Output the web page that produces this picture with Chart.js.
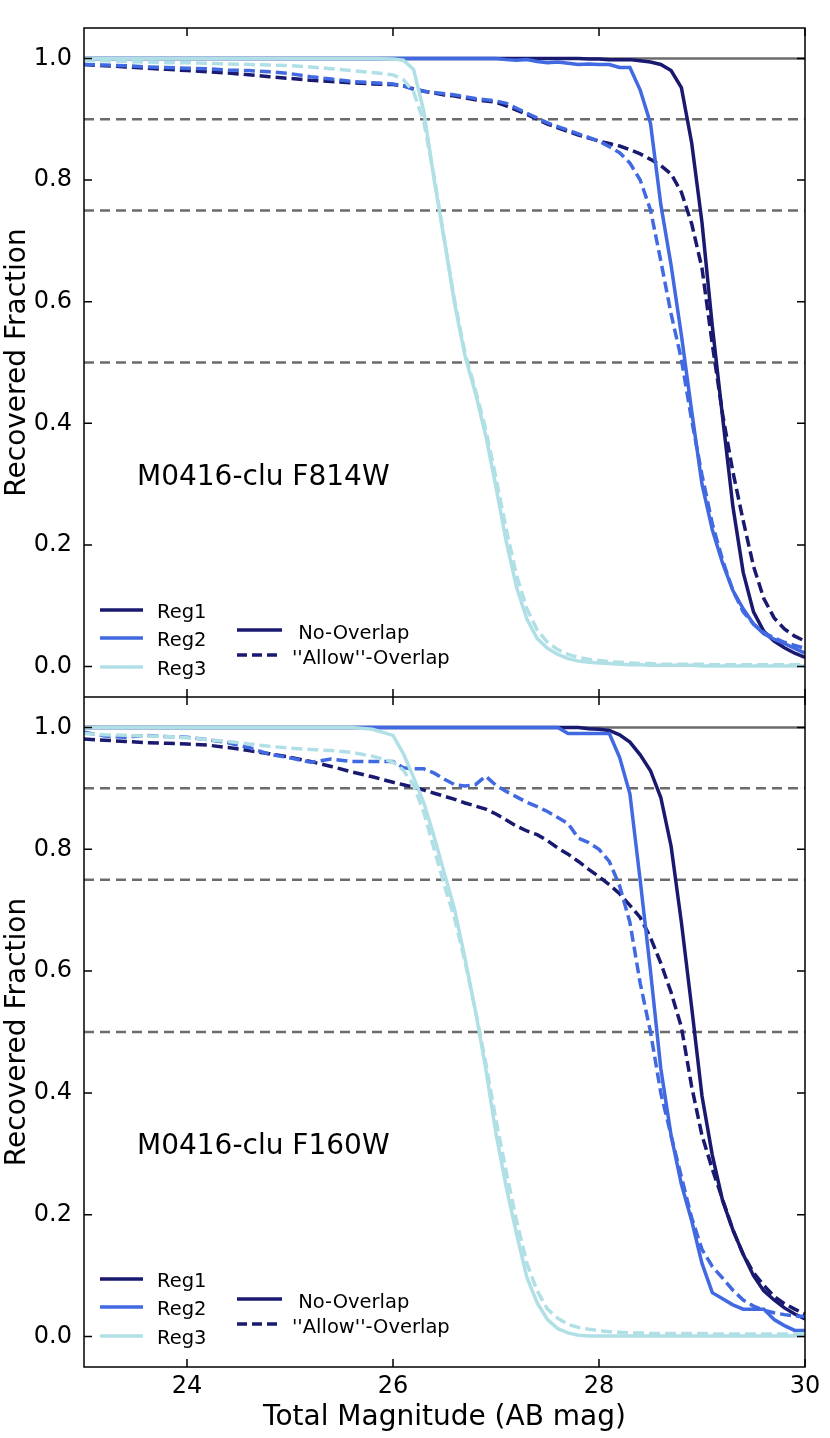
<!DOCTYPE html>
<html>
<head>
<meta charset="utf-8">
<title>Recovered Fraction - M0416-clu</title>
<script src="https://cdn.jsdelivr.net/npm/chart.js@4.4.1/dist/chart.umd.min.js"></script>
<style>
  body { margin: 0; background: #fff; }
  canvas { display: block; }
</style>
</head>
<body>
<canvas id="panelTop" width="830" height="697"></canvas>
<canvas id="panelBottom" width="830" height="741"></canvas>
<script>
// magnitude grid shared by every curve
const mags = [23.0, 23.2, 23.4, 23.6, 23.8, 24.0, 24.2, 24.4, 24.6, 24.8, 25.0, 25.2, 25.4, 25.6, 25.8,
  26.0, 26.1, 26.2, 26.3, 26.4, 26.5, 26.6, 26.7, 26.8, 26.9,
  27.0, 27.1, 27.2, 27.3, 27.4, 27.5, 27.6, 27.7, 27.8, 27.9,
  28.0, 28.1, 28.2, 28.3, 28.4, 28.5, 28.6, 28.7, 28.8, 28.9,
  29.0, 29.1, 29.2, 29.3, 29.4, 29.5, 29.6, 29.7, 29.8, 29.9, 30.0];

const xTicks = [24, 26, 28, 30];
const yTicks = [0.0, 0.2, 0.4, 0.6, 0.8, 1.0];
const refLevels = [1.0, 0.9, 0.75, 0.5];

// F814W
const reg1Solid814 = [1, 1, 1, 1, 1, 1, 1, 1, 1, 1, 1, 1, 1, 1, 1,
  1, 1, 1, 1, 1, 1, 1, 1, 1, 1,
  1, 1, 1, 1, 1, 1, 1, 1, 1, 0.999,
  0.999, 0.998, 0.998, 0.998, 0.996, 0.994, 0.99, 0.98, 0.952, 0.861,
  0.73, 0.56, 0.41, 0.263, 0.155, 0.09, 0.058, 0.042, 0.031, 0.022, 0.015];
const reg1Dash814 = [0.99, 0.988, 0.986, 0.984, 0.982, 0.98, 0.978, 0.976, 0.973, 0.97, 0.967, 0.964, 0.962, 0.96, 0.958,
  0.957, 0.955, 0.95, 0.946, 0.943, 0.94, 0.938, 0.935, 0.932, 0.93,
  0.928, 0.922, 0.915, 0.908, 0.9, 0.892, 0.886, 0.88, 0.874, 0.869,
  0.864, 0.86, 0.856, 0.85, 0.843, 0.834, 0.824, 0.81, 0.78, 0.728,
  0.655, 0.53, 0.415, 0.32, 0.24, 0.165, 0.112, 0.08, 0.062, 0.05, 0.042];
const reg2Solid814 = [1, 1, 1, 1, 1, 1, 1, 1, 1, 1, 1, 1, 1, 1, 1,
  1, 1, 1, 1, 1, 1, 1, 1, 1, 1,
  1, 0.998, 0.997, 0.998, 0.995, 0.993, 0.994, 0.992, 0.99, 0.991,
  0.99, 0.99, 0.985, 0.985, 0.948, 0.893, 0.76, 0.66, 0.545, 0.42,
  0.3, 0.225, 0.17, 0.125, 0.095, 0.07, 0.054, 0.045, 0.038, 0.03, 0.022];
const reg2Dash814 = [0.99, 0.989, 0.988, 0.986, 0.985, 0.984, 0.983, 0.981, 0.98, 0.978, 0.975, 0.97, 0.966, 0.962, 0.96,
  0.958, 0.955, 0.949, 0.946, 0.944, 0.942, 0.94, 0.937, 0.934, 0.932,
  0.93, 0.926, 0.918, 0.91, 0.902, 0.894, 0.888, 0.882, 0.876, 0.87,
  0.864, 0.855, 0.845, 0.828, 0.8, 0.751, 0.667, 0.58, 0.505, 0.405,
  0.315, 0.235, 0.175, 0.125, 0.09, 0.07, 0.056, 0.047, 0.04, 0.035, 0.03];
const reg3Solid814 = [1, 1, 1, 1, 1, 1, 1, 1, 1, 1, 1, 1, 1, 1, 1,
  0.999, 0.997, 0.982, 0.912, 0.8, 0.7, 0.595, 0.51, 0.45, 0.38,
  0.295, 0.205, 0.13, 0.078, 0.046, 0.03, 0.02, 0.013, 0.009, 0.007,
  0.006, 0.005, 0.004, 0.003, 0.003, 0.002, 0.002, 0.002, 0.002, 0.002,
  0.001, 0.001, 0.001, 0.001, 0.001, 0.001, 0.001, 0.001, 0.001, 0.001, 0.001];
const reg3Dash814 = [0.997, 0.996, 0.995, 0.994, 0.993, 0.993, 0.992, 0.991, 0.99, 0.989, 0.988, 0.986, 0.983, 0.98, 0.977,
  0.973, 0.965, 0.945, 0.895, 0.805, 0.7, 0.6, 0.515, 0.455, 0.39,
  0.31, 0.225, 0.15, 0.095, 0.06, 0.04, 0.028, 0.02, 0.015, 0.012,
  0.01, 0.008, 0.007, 0.006, 0.005, 0.005, 0.004, 0.004, 0.004, 0.004,
  0.004, 0.003, 0.003, 0.003, 0.003, 0.003, 0.003, 0.003, 0.003, 0.003, 0.003];

// F160W
const reg1Solid160 = [1, 1, 1, 1, 1, 1, 1, 1, 1, 1, 1, 1, 1, 1, 1,
  1, 1, 1, 1, 1, 1, 1, 1, 1, 1,
  1, 1, 1, 1, 1, 1, 1, 1, 1, 0.998,
  0.997, 0.995, 0.988, 0.976, 0.955, 0.929, 0.885, 0.805, 0.68, 0.54,
  0.395, 0.298, 0.223, 0.175, 0.135, 0.1, 0.075, 0.06, 0.047, 0.037, 0.029];
const reg1Dash160 = [0.981, 0.979, 0.977, 0.975, 0.974, 0.973, 0.971, 0.967, 0.962, 0.957, 0.951, 0.944, 0.936, 0.927, 0.919,
  0.91, 0.906, 0.902, 0.897, 0.892, 0.887, 0.882, 0.876, 0.871, 0.866,
  0.858, 0.848, 0.838, 0.83, 0.824, 0.814, 0.802, 0.792, 0.78, 0.767,
  0.755, 0.742, 0.727, 0.708, 0.688, 0.655, 0.613, 0.565, 0.508, 0.41,
  0.33, 0.275, 0.225, 0.175, 0.135, 0.105, 0.084, 0.066, 0.054, 0.045, 0.037];
const reg2Solid160 = [1, 1, 1, 1, 1, 1, 1, 1, 1, 1, 1, 1, 1, 1, 1,
  1, 1, 1, 1, 1, 1, 1, 1, 1, 1,
  1, 1, 1, 1, 1, 1, 1, 0.99, 0.99, 0.99,
  0.99, 0.99, 0.951, 0.891, 0.749, 0.6, 0.44, 0.33, 0.25, 0.19,
  0.12, 0.072, 0.062, 0.052, 0.045, 0.045, 0.045, 0.028, 0.018, 0.01, 0.01];
const reg2Dash160 = [0.992, 0.986, 0.984, 0.987, 0.985, 0.984, 0.98, 0.975, 0.967, 0.956, 0.95, 0.943, 0.948, 0.944, 0.944,
  0.944, 0.934, 0.932, 0.932, 0.925, 0.915, 0.906, 0.904, 0.906, 0.92,
  0.905, 0.895, 0.886, 0.877, 0.87, 0.862, 0.852, 0.842, 0.818, 0.811,
  0.8, 0.78, 0.74, 0.68, 0.58, 0.5, 0.4, 0.33, 0.262, 0.195,
  0.143, 0.115, 0.096, 0.076, 0.06, 0.05, 0.043, 0.039, 0.036, 0.034, 0.033];
const reg3Solid160 = [1, 1, 1, 1, 1, 1, 1, 1, 1, 1, 1, 1, 1, 1, 0.997,
  0.987, 0.957, 0.918, 0.876, 0.82, 0.76, 0.7, 0.62, 0.535, 0.44,
  0.333, 0.245, 0.168, 0.097, 0.055, 0.028, 0.013, 0.006, 0.002, 0.001,
  0.001, 0.001, 0.001, 0.001, 0.001, 0.001, 0.001, 0.001, 0.001, 0.001,
  0.001, 0.001, 0.001, 0.001, 0.001, 0.001, 0.001, 0.001, 0.001, 0.001, 0.001];
const reg3Dash160 = [0.99, 0.988, 0.987, 0.986, 0.985, 0.983, 0.98, 0.977, 0.973, 0.969, 0.966, 0.964, 0.962, 0.959, 0.953,
  0.943, 0.93, 0.905, 0.86, 0.8, 0.74, 0.685, 0.615, 0.535, 0.45,
  0.355, 0.27, 0.19, 0.12, 0.075, 0.045, 0.03, 0.02, 0.015, 0.012,
  0.01, 0.008, 0.007, 0.006, 0.006, 0.005, 0.005, 0.005, 0.005, 0.005,
  0.005, 0.004, 0.004, 0.004, 0.004, 0.004, 0.004, 0.004, 0.004, 0.004, 0.004];

const regNames = ['Reg1', 'Reg2', 'Reg3'];
const regColors = ['#191970', '#4169e1', '#b0e0e6'];
const styleNames = [' No-Overlap', "''Allow''-Overlap"];

const FONT = "'DejaVu Sans', sans-serif";
const CURVE_DASH = [11, 5];
Chart.defaults.font.family = FONT;
Chart.defaults.color = '#000';

function curve(values, color, dashed, order) {
  return {
    data: mags.map((m, i) => ({ x: m, y: values[i] })),
    borderColor: color,
    borderWidth: 3.5,
    borderDash: dashed ? CURVE_DASH : [],
    pointRadius: 0,
    fill: false,
    tension: 0,
    order: order
  };
}

function refLine(level) {
  return {
    data: [{ x: 23, y: level }, { x: 30, y: level }],
    borderColor: '#6b6b6b',
    borderWidth: 2.5,
    borderDash: level < 1 ? [10, 6] : [],
    pointRadius: 0,
    order: 10
  };
}

// frame, inward ticks, panel label and the two legends
function extrasPlugin(label) {
  return {
    id: 'panelExtras',
    afterDraw(chart) {
      const { ctx, chartArea: a, scales: { x, y } } = chart;
      ctx.save();
      ctx.strokeStyle = '#000';
      ctx.lineWidth = 1.5;
      ctx.setLineDash([]);
      ctx.strokeRect(a.left, a.top, a.right - a.left, a.bottom - a.top);

      ctx.beginPath();
      xTicks.forEach(v => {
        const px = x.getPixelForValue(v);
        ctx.moveTo(px, a.top); ctx.lineTo(px, a.top + 8);
        ctx.moveTo(px, a.bottom); ctx.lineTo(px, a.bottom - 8);
      });
      yTicks.forEach(v => {
        const py = y.getPixelForValue(v);
        ctx.moveTo(a.left, py); ctx.lineTo(a.left + 8, py);
        ctx.moveTo(a.right, py); ctx.lineTo(a.right - 8, py);
      });
      ctx.stroke();

      ctx.fillStyle = '#000';
      ctx.textBaseline = 'alphabetic';
      ctx.textAlign = 'left';
      ctx.font = '28px ' + FONT;
      ctx.fillText(label, a.left + 53, a.top + 457);

      // region legend
      ctx.font = '19.5px ' + FONT;
      ctx.lineWidth = 3.5;
      const regRows = [582, 610, 639];
      regNames.forEach((name, i) => {
        const ry = a.top + regRows[i];
        ctx.strokeStyle = regColors[i];
        ctx.beginPath();
        ctx.moveTo(a.left + 16, ry); ctx.lineTo(a.left + 59, ry);
        ctx.stroke();
        ctx.fillText(name, a.left + 73, ry + 8);
      });

      // line-style legend
      const styleRows = [602, 627];
      styleNames.forEach((name, i) => {
        const ry = a.top + styleRows[i];
        ctx.strokeStyle = regColors[0];
        ctx.setLineDash(i === 1 ? [10, 5] : []);
        ctx.beginPath();
        ctx.moveTo(a.left + 153, ry); ctx.lineTo(a.left + 198, ry);
        ctx.stroke();
        ctx.setLineDash([]);
        ctx.fillText(name, a.left + 208, ry + 9);
      });
      ctx.restore();
    }
  };
}

function makePanel(canvasId, series, label, showX) {
  const datasets = refLevels.map(refLine).concat([
    curve(series[0], regColors[0], false, 6),
    curve(series[1], regColors[0], true, 5),
    curve(series[2], regColors[1], false, 4),
    curve(series[3], regColors[1], true, 3),
    curve(series[4], regColors[2], false, 2),
    curve(series[5], regColors[2], true, 1)
  ]);

  return new Chart(document.getElementById(canvasId), {
    type: 'line',
    data: { datasets: datasets },
    options: {
      responsive: false,
      animation: false,
      events: [],
      layout: { padding: { left: 0, right: 25, top: showX ? 0 : 28, bottom: 0 } },
      plugins: { legend: { display: false }, tooltip: { enabled: false } },
      scales: {
        x: {
          type: 'linear', min: 23, max: 30,
          afterBuildTicks: s => { s.ticks = xTicks.map(v => ({ value: v })); },
          afterFit: s => {
            s.height = showX ? 71 : 0;
            s.paddingLeft = 0; s.paddingRight = 0;
          },
          grid: { display: false },
          border: { display: false },
          ticks: { display: showX, font: { size: 24 }, color: '#000', padding: -3, maxRotation: 0, callback: v => String(v) },
          title: { display: showX, text: 'Total Magnitude (AB mag)', font: { size: 28 }, color: '#000', padding: { top: 0, bottom: 3 } }
        },
        y: {
          type: 'linear', min: -0.05, max: 1.05,
          afterBuildTicks: s => { s.ticks = yTicks.map(v => ({ value: v })); },
          afterFit: s => {
            s.width = 84;
            s.paddingTop = 0; s.paddingBottom = 0;
          },
          grid: { display: false },
          border: { display: false },
          ticks: { font: { size: 24 }, color: '#000', padding: 4, callback: v => v.toFixed(1) },
          title: { display: true, text: 'Recovered Fraction', font: { size: 28 }, color: '#000', padding: { top: 1, bottom: 0 } }
        }
      }
    },
    plugins: [extrasPlugin(label)]
  });
}

makePanel('panelTop',
  [reg1Solid814, reg1Dash814, reg2Solid814, reg2Dash814, reg3Solid814, reg3Dash814],
  'M0416-clu F814W', false);
makePanel('panelBottom',
  [reg1Solid160, reg1Dash160, reg2Solid160, reg2Dash160, reg3Solid160, reg3Dash160],
  'M0416-clu F160W', true);
</script>
</body>
</html>
